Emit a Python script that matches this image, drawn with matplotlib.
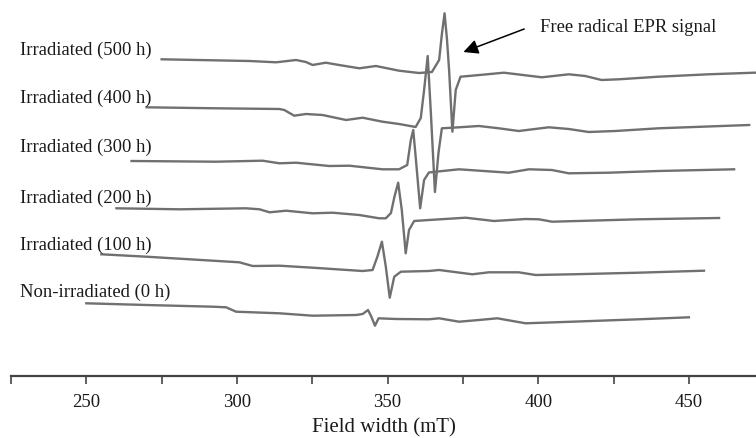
import matplotlib
matplotlib.use("Agg")
import matplotlib.pyplot as plt

plt.rcParams['font.family'] = ['Liberation Serif', 'DejaVu Serif']

# EPR spectra, field (mT, before stacking shift) and intensity (arb. units, 0 = start level)
labels = ["Non-irradiated (0 h)", "Irradiated (100 h)", "Irradiated (200 h)",
          "Irradiated (300 h)", "Irradiated (400 h)", "Irradiated (500 h)"]

field_0h = [250, 269.9, 292.0, 296.4, 299.7, 314.1, 325.1, 339.5, 341.7, 343.5, 344.6,
            345.8, 347.0, 352.7, 363.7, 367.1, 373.7, 380.3, 386.4, 395.8, 411.2, 433.3, 450]
int_0h = [0, -1.7, -3.4, -4.0, -8.4, -10.0, -12.4, -11.7, -10.7, -6.7, -13.4,
          -22.4, -15.0, -15.7, -16.0, -15.0, -18.4, -16.7, -15.0, -20.0, -18.4, -16.0, -14.0]

field_100h = [250, 264.9, 287.0, 295.8, 300.2, 309.1, 320.1, 336.7, 340.0, 341.6, 343.1,
              344.4, 345.7, 347.2, 349.4, 358.7, 362.1, 373.1, 378.6, 388.5, 394.1, 406.2,
              428.3, 450]
int_100h = [0, -2.4, -6.4, -8.0, -11.7, -11.4, -13.4, -16.7, -15.7, -2.4, 12.6,
            -12.4, -43.4, -22.4, -17.4, -16.7, -15.7, -20.0, -18.0, -18.0, -20.7, -20.0,
            -18.4, -16.4]

field_200h = [250, 271.0, 293.0, 297.5, 300.8, 306.3, 315.1, 321.7, 330.6, 337.2, 339.4,
              341.1, 342.3, 343.5, 344.7, 346.0, 347.1, 348.8, 353.7, 365.9, 375.3, 385.8,
              390.2, 394.6, 406.7, 423.3, 450]
int_200h = [0, -1.0, 0, -1.0, -4.0, -2.4, -5.0, -4.4, -6.7, -10.0, -10.0,
            -4.7, 12.0, 25.6, -1.7, -45.0, -21.7, -12.7, -11.7, -9.4, -12.7, -10.7,
            -11.0, -13.4, -12.4, -11.0, -9.7]

field_300h = [250, 278.1, 293.5, 299.1, 304.6, 315.6, 322.3, 333.3, 338.8, 341.5, 342.7,
              343.5, 344.4, 345.8, 347.1, 348.7, 351.0, 358.7, 375.2, 381.9, 389.5, 395.1,
              408.3, 424.9, 450]
int_300h = [0, -0.7, 0.3, -2.3, -1.7, -5.0, -4.7, -8.3, -8.3, -4.0, 21.0,
            31.0, 1.0, -47.3, -19.0, -11.5, -10.7, -8.3, -11.7, -8.3, -9.0, -12.3,
            -11.7, -10.0, -8.3]

field_400h = [250, 273.1, 294.1, 295.7, 299.0, 302.9, 308.4, 316.2, 321.7, 328.3, 333.8,
              339.3, 341.0, 342.1, 343.3, 344.3, 345.7, 346.9, 348.0, 353.7, 360.3, 366.9,
              373.5, 383.5, 390.1, 396.7, 405.6, 419.9, 450]
int_400h = [0, -1.0, -1.7, -2.7, -8.4, -6.7, -7.7, -12.7, -10.4, -14.4, -16.7,
            -19.7, -10.7, 17.0, 51.3, -2.7, -84.7, -45.0, -21.0, -20.0, -18.7, -21.0,
            -23.7, -20.0, -21.7, -24.7, -23.7, -21.0, -17.7]

field_500h = [250, 279.1, 288.0, 294.6, 297.9, 300.1, 304.5, 308.9, 315.6, 321.1, 328.8,
              335.4, 339.7, 342.1, 343.0, 343.9, 344.7, 345.4, 346.5, 347.6, 349.2, 353.0,
              363.6, 376.2, 385.1, 390.6, 396.0, 401.7, 414.9, 431.5, 446.7, 450]
int_500h = [0, -1.7, -3.0, -0.7, -2.7, -5.7, -3.4, -5.7, -9.0, -6.7, -11.4,
            -13.7, -12.7, -0.7, 25.0, 46.0, 20.0, -10.7, -72.4, -30.7, -17.4, -16.4,
            -13.4, -18.0, -15.0, -16.7, -20.7, -20.0, -17.4, -15.0, -13.4, -13.2]

fields = [field_0h, field_100h, field_200h, field_300h, field_400h, field_500h]
intensities = [int_0h, int_100h, int_200h, int_300h, int_400h, int_500h]

# stacking (waterfall) offsets
x_shift = 5.0
y_offsets = [72.7, 121.7, 167.7, 215.0, 268.7, 316.7]
label_y = [84, 131, 178, 229, 278, 326]

fig = plt.figure(figsize=(7.56, 4.38), dpi=100)
ax = fig.add_axes([11 / 756, 1 - 376 / 438, 745 / 756, 376 / 438])

for i in range(len(fields)):
    xs = [f + i * x_shift for f in fields[i]]
    ys = [v + y_offsets[i] for v in intensities[i]]
    ax.plot(xs, ys, color="#707070", lw=1.7, solid_joinstyle="round")
    ax.text(228, label_y[i], labels[i], fontsize=13.4, color="#1a1a1a", va="center", ha="left")

ax.annotate("", xy=(374.3, 323), xytext=(396.2, 348),
            arrowprops=dict(arrowstyle="-|>", color="black", lw=1.1, mutation_scale=22))
ax.text(400.5, 349, "Free radical EPR signal", fontsize=13.4, color="#1a1a1a",
        va="center", ha="left")

ax.set_xlim(225, 225 + 745 / 3.013)
ax.set_ylim(0, 376)
for s in ["top", "left", "right"]:
    ax.spines[s].set_visible(False)
ax.spines["bottom"].set_color("#444444")
ax.spines["bottom"].set_linewidth(1.6)
ax.set_yticks([])
ax.set_xticks([250, 300, 350, 400, 450])
ax.set_xticks([225, 275, 325, 375, 425], minor=True)
ax.tick_params(axis="x", which="both", length=6, width=1.2, color="#444444",
               labelsize=13.5, labelcolor="#1a1a1a", pad=7)
ax.set_xlabel("Field width (mT)", fontsize=15, color="#1a1a1a", labelpad=5)
ax.patch.set_visible(False)

fig.savefig("out.png", dpi=100)
